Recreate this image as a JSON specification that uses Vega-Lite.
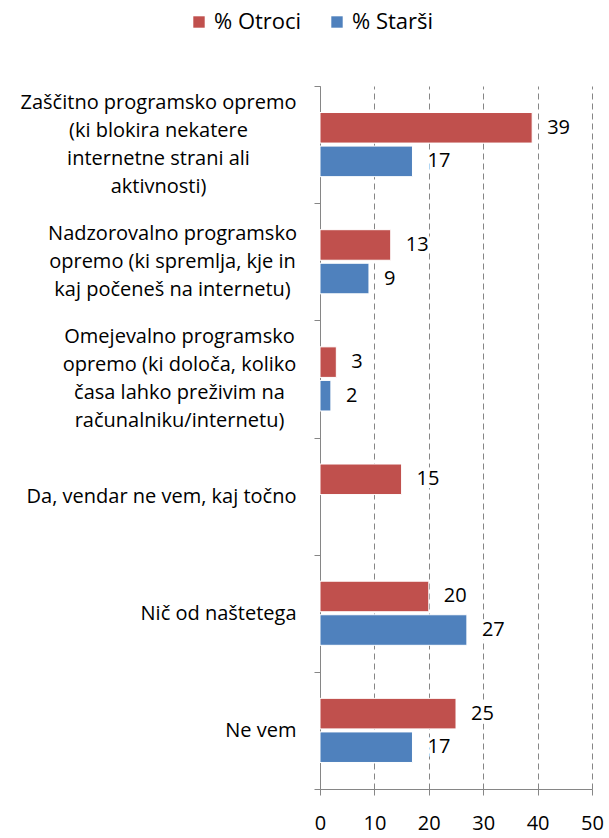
{
  "$schema": "https://vega.github.io/schema/vega-lite/v6.json",
  "width": 272,
  "height": 703,
  "autosize": "none",
  "padding": {"left": 320, "top": 86, "right": 17, "bottom": 49},
  "config": {"view": {"stroke": null}, "font": "Open Sans", "background": "white"},
  "data": {
    "values": [
      {"cat": "Zaščitno programsko opremo|(ki blokira nekatere|internetne strani ali|aktivnosti)", "grp": "% Otroci", "val": 39},
      {"cat": "Zaščitno programsko opremo|(ki blokira nekatere|internetne strani ali|aktivnosti)", "grp": "% Starši", "val": 17},
      {"cat": "Nadzorovalno programsko|opremo (ki spremlja, kje in|kaj počeneš na internetu)", "grp": "% Otroci", "val": 13},
      {"cat": "Nadzorovalno programsko|opremo (ki spremlja, kje in|kaj počeneš na internetu)", "grp": "% Starši", "val": 9},
      {"cat": "Omejevalno programsko|opremo (ki določa, koliko|časa lahko preživim na|računalniku/internetu)", "grp": "% Otroci", "val": 3},
      {"cat": "Omejevalno programsko|opremo (ki določa, koliko|časa lahko preživim na|računalniku/internetu)", "grp": "% Starši", "val": 2},
      {"cat": "Da, vendar ne vem, kaj točno", "grp": "% Otroci", "val": 15},
      {"cat": "Nič od naštetega", "grp": "% Otroci", "val": 20},
      {"cat": "Nič od naštetega", "grp": "% Starši", "val": 27},
      {"cat": "Ne vem", "grp": "% Otroci", "val": 25},
      {"cat": "Ne vem", "grp": "% Starši", "val": 17}
    ]
  },
  "encoding": {
    "y": {
      "field": "cat",
      "type": "nominal",
      "sort": null,
      "scale": {"paddingInner": 0, "paddingOuter": 0},
      "axis": {
        "title": null,
        "tickBand": "extent",
        "labelExpr": "isString(datum.value) ? split(datum.value, '|') : ''",
        "labelFontSize": 20,
        "labelColor": "black",
        "labelLineHeight": 28,
        "labelLimit": 0,
        "tickSize": 6,
        "tickColor": "#868686",
        "domainColor": "#868686",
        "labelBaseline": "middle",
        "labelAlign": {
          "condition": {"test": "isString(datum.value) && indexof(datum.value, '|') >= 0", "value": "center"},
          "value": "right"
        },
        "labelPadding": {
          "condition": [
            {"test": "isString(datum.value) && indexof(datum.value, 'Zaščitno') == 0", "value": 156},
            {"test": "isString(datum.value) && indexof(datum.value, 'Nadzorovalno') == 0", "value": 142},
            {"test": "isString(datum.value) && indexof(datum.value, 'Omejevalno') == 0", "value": 135}
          ],
          "value": 18
        },
        "labelOffset": {
          "condition": [
            {"test": "isString(datum.value) && indexof(datum.value, 'Zaščitno') == 0", "value": -42},
            {"test": "isString(datum.value) && indexof(datum.value, 'Nadzorovalno') == 0", "value": -28},
            {"test": "isString(datum.value) && indexof(datum.value, 'Omejevalno') == 0", "value": -42}
          ],
          "value": 0
        }
      }
    },
    "yOffset": {"field": "grp", "type": "nominal", "sort": ["% Otroci", "% Starši"], "scale": {"paddingInner": 0.09, "paddingOuter": 0.79}},
    "x": {
      "field": "val",
      "type": "quantitative",
      "scale": {"domain": [0, 50], "nice": false},
      "axis": {
        "title": null,
        "values": [0, 10, 20, 30, 40, 50],
        "grid": true,
        "gridDash": [6, 4],
        "gridColor": "#868686",
        "gridWidth": 1,
        "domainColor": "#868686",
        "tickColor": "#868686",
        "tickSize": 6,
        "labelFontSize": 20,
        "labelColor": "black",
        "labelPadding": 18,
        "labelFlush": false
      }
    }
  },
  "layer": [
    {
      "mark": {"type": "bar", "stroke": "white", "strokeWidth": 1},
      "encoding": {
        "color": {
          "field": "grp",
          "type": "nominal",
          "scale": {"domain": ["% Otroci", "% Starši"], "range": ["#C0504D", "#4F81BD"]},
          "legend": {
            "orient": "none",
            "legendX": -132,
            "legendY": -75,
            "direction": "horizontal",
            "title": null,
            "symbolType": "square",
            "symbolSize": 130,
            "symbolStrokeWidth": 0,
            "labelFontSize": 22,
            "labelColor": "black",
            "labelOffset": 4,
            "columnPadding": 24
          }
        }
      }
    },
    {
      "mark": {"type": "text", "align": "left", "dx": 15, "fontSize": 20, "color": "white", "stroke": "white", "strokeWidth": 7, "baseline": "middle"},
      "encoding": {"text": {"field": "val", "type": "quantitative"}}
    },
    {
      "mark": {"type": "text", "align": "left", "dx": 15, "fontSize": 20, "color": "black", "baseline": "middle"},
      "encoding": {"text": {"field": "val", "type": "quantitative"}}
    }
  ]
}
